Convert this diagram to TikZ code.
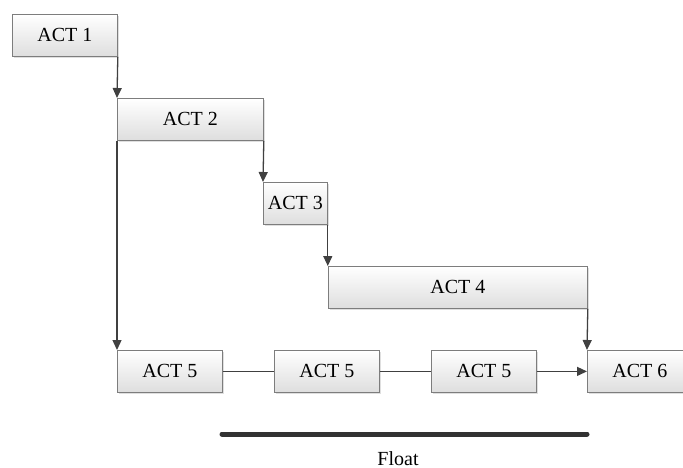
\documentclass[tikz,border=0pt]{standalone}
\usepackage{fontspec}
\setmainfont{Liberation Serif}
\usetikzlibrary{arrows.meta,shadows}
\definecolor{boxline}{RGB}{125,125,125}
\definecolor{boxlow}{RGB}{222,222,222}
\definecolor{linkcol}{RGB}{64,64,64}
\definecolor{barcol}{RGB}{50,50,50}
\tikzset{
  actbox/.style={rectangle, draw=boxline, line width=0.8pt,
    top color=white, bottom color=boxlow,
    drop shadow={shadow xshift=1.5pt, shadow yshift=-1.5pt, opacity=0.25},
    anchor=north west, minimum height=42pt, inner sep=0pt,
    font=\fontsize{20}{23}\selectfont},
  link/.style={draw=linkcol, line width=1.3pt},
  arr/.style={link, -{Triangle[length=10pt,width=9pt]}},
}
\begin{document}
\begin{tikzpicture}[x=1pt,y=-1pt]
\useasboundingbox (0,0) rectangle (683,468);
% activity boxes
\node[actbox, minimum width=105pt] (a1) at (12,14) {ACT 1};
\node[actbox, minimum width=146pt] (a2) at (117,98) {ACT 2};
\node[actbox, minimum width=64pt] (a3) at (263,182) {ACT 3};
\node[actbox, minimum width=259pt] (a4) at (328,266) {ACT 4};
\node[actbox, minimum width=105pt] (a5a) at (117,350) {ACT 5};
\node[actbox, minimum width=105pt] (a5b) at (274,350) {ACT 5};
\node[actbox, minimum width=105pt] (a5c) at (431,350) {ACT 5};
\node[actbox, minimum width=105pt] (a6) at (587,350) {ACT 6};
% precedence links
\draw[arr] (a1.south east) -- (a2.north west);
\draw[arr] (a2.south east) -- (a3.north west);
\draw[arr] (a3.south east) -- (a3.south east |- a4.north);
\draw[arr] (a2.south west) -- (a5a.north west);
\draw[arr] (a4.south east) -- (a6.north west);
\draw[link] (a5a.east) -- (a5b.west);
\draw[link] (a5b.east) -- (a5c.west);
\draw[arr] (a5c.east) -- (a6.west);
% float bar
\coordinate (f1) at (222,434);
\coordinate (f2) at (587,434);
\draw[barcol, line width=5pt, line cap=round] (f1) -- (f2);
\node[anchor=base, font=\fontsize{20}{23}\selectfont] (flt) at (398,465) {Float};
\end{tikzpicture}
\end{document}
